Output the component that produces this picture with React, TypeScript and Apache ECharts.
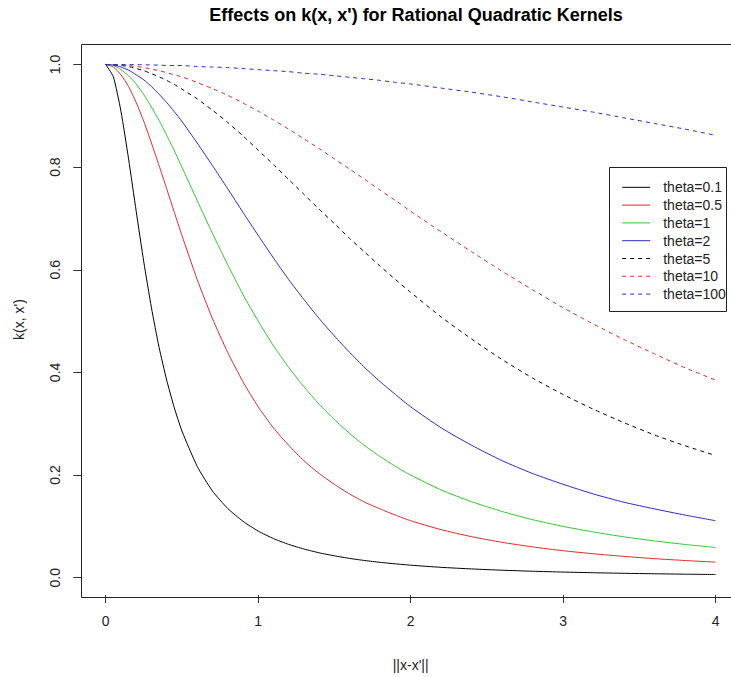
import React, { useEffect, useRef } from "react";
import * as echarts from "echarts";

const xs = [0, 0.05, 0.1, 0.15, 0.2, 0.25, 0.3, 0.35, 0.4, 0.45, 0.5, 0.6, 0.7, 0.8, 0.9, 1.0, 1.1, 1.2, 1.3, 1.4, 1.5, 1.6, 1.7, 1.8, 1.9, 2.0, 2.2, 2.4, 2.6, 2.8, 3.0, 3.2, 3.4, 3.6, 3.8, 4.0];

const theta01 = [1, 0.976, 0.909, 0.816, 0.714, 0.615, 0.526, 0.449, 0.385, 0.331, 0.286, 0.217, 0.169, 0.135, 0.11, 0.0909, 0.0763, 0.0649, 0.0559, 0.0485, 0.0426, 0.0376, 0.0334, 0.0299, 0.027, 0.0244, 0.0202, 0.0171, 0.0146, 0.0126, 0.011, 0.00967, 0.00858, 0.00766, 0.00688, 0.00621];
const theta05 = [1, 0.995, 0.98, 0.957, 0.926, 0.889, 0.847, 0.803, 0.758, 0.712, 0.667, 0.581, 0.505, 0.439, 0.382, 0.333, 0.292, 0.258, 0.228, 0.203, 0.182, 0.163, 0.147, 0.134, 0.122, 0.111, 0.0936, 0.0799, 0.0689, 0.06, 0.0526, 0.0466, 0.0415, 0.0371, 0.0335, 0.0303];
const theta1 = [1, 0.998, 0.99, 0.978, 0.962, 0.941, 0.917, 0.891, 0.862, 0.832, 0.8, 0.735, 0.671, 0.61, 0.552, 0.5, 0.452, 0.41, 0.372, 0.338, 0.308, 0.281, 0.257, 0.236, 0.217, 0.2, 0.171, 0.148, 0.129, 0.113, 0.1, 0.089, 0.0796, 0.0716, 0.0648, 0.0588];
const theta2 = [1, 0.999, 0.995, 0.989, 0.98, 0.97, 0.957, 0.942, 0.926, 0.908, 0.889, 0.847, 0.803, 0.758, 0.712, 0.667, 0.623, 0.581, 0.542, 0.505, 0.471, 0.439, 0.409, 0.382, 0.357, 0.333, 0.292, 0.258, 0.228, 0.203, 0.182, 0.163, 0.147, 0.134, 0.122, 0.111];
const theta5 = [1, 0.9995, 0.998, 0.996, 0.992, 0.988, 0.982, 0.976, 0.969, 0.961, 0.952, 0.933, 0.911, 0.887, 0.861, 0.833, 0.805, 0.776, 0.747, 0.718, 0.69, 0.661, 0.634, 0.607, 0.581, 0.556, 0.508, 0.465, 0.425, 0.389, 0.357, 0.328, 0.302, 0.278, 0.257, 0.238];
const theta10 = [1, 0.9998, 0.999, 0.998, 0.996, 0.994, 0.991, 0.988, 0.984, 0.98, 0.976, 0.965, 0.953, 0.94, 0.925, 0.909, 0.892, 0.874, 0.855, 0.836, 0.816, 0.796, 0.776, 0.755, 0.735, 0.714, 0.674, 0.635, 0.597, 0.561, 0.526, 0.494, 0.464, 0.436, 0.409, 0.385];
const theta100 = [1, 1, 0.9999, 0.9998, 0.9996, 0.9994, 0.9991, 0.9988, 0.998, 0.998, 0.998, 0.996, 0.995, 0.994, 0.992, 0.99, 0.988, 0.986, 0.983, 0.981, 0.978, 0.975, 0.972, 0.969, 0.965, 0.962, 0.954, 0.946, 0.937, 0.927, 0.917, 0.907, 0.896, 0.885, 0.874, 0.862];

const seriesNames = ["theta=0.1", "theta=0.5", "theta=1", "theta=2", "theta=5", "theta=10", "theta=100"];
const seriesValues = [theta01, theta05, theta1, theta2, theta5, theta10, theta100];
const seriesColors = ["#000000", "#e02828", "#2ec82e", "#2a2ac8", "#000000", "#e02828", "#2a2ac8"];
const seriesDashed = [false, false, false, false, true, true, true];

const xTicks = [0, 1, 2, 3, 4];
const yTicks = [0, 0.2, 0.4, 0.6, 0.8, 1.0];
// plotted ranges (R default 4% extension)
const xRange = [-0.16, 4.16];
const yRange = [-0.0337, 1.0399];

const FONT = "'Liberation Sans', Arial, sans-serif";

export default function App() {
  const ref = useRef<HTMLDivElement>(null);
  useEffect(() => {
    if (!ref.current) return;
    const chart = echarts.init(ref.current, null, { renderer: "svg" });
    const option: any = {
      animation: false,
      backgroundColor: "#ffffff",
      title: {
        text: "Effects on k(x, x') for Rational Quadratic Kernels",
        left: 411,
        top: 1,
        textAlign: "center",
        textStyle: { fontFamily: FONT, fontSize: 18, fontWeight: "bold", color: "#000" },
      },
      grid: { left: 81.3, width: 658.7, top: 44, height: 553.5, containLabel: false },
      xAxis: {
        type: "value",
        min: xRange[0],
        max: xRange[1],
        name: "||x-x'||",
        nameLocation: "middle",
        nameGap: 63,
        nameTextStyle: { fontFamily: FONT, fontSize: 14, color: "#222" },
        axisLine: { show: false, onZero: false },
        axisTick: { show: true, length: 8, customValues: xTicks, lineStyle: { color: "#333" } },
        axisLabel: { fontFamily: FONT, fontSize: 14, color: "#222", margin: 19, customValues: xTicks },
        splitLine: { show: false },
      },
      yAxis: {
        type: "value",
        min: yRange[0],
        max: yRange[1],
        name: "k(x, x')",
        nameLocation: "middle",
        nameGap: 55,
        nameTextStyle: { fontFamily: FONT, fontSize: 14, color: "#222" },
        axisLine: { show: false, onZero: false },
        axisTick: { show: true, length: 8, customValues: yTicks, lineStyle: { color: "#333" } },
        axisLabel: {
          fontFamily: FONT,
          fontSize: 14,
          color: "#222",
          rotate: 90,
          margin: 19,
          customValues: yTicks,
          formatter: (v: number) => v.toFixed(1),
        },
        splitLine: { show: false },
      },
      legend: {
        orient: "vertical",
        left: 621.7,
        top: 180.3,
        padding: 0,
        itemWidth: 28,
        itemHeight: 14,
        itemGap: 3.8,
        data: seriesNames,
        itemStyle: { opacity: 0 },
        lineStyle: { width: 1 },
        textStyle: { fontFamily: FONT, fontSize: 14, color: "#222", padding: [0, 0, 0, 8] },
      },
      graphic: [
        {
          type: "rect",
          shape: { x: 81.5, y: 44.5, width: 658.5, height: 553 },
          style: { fill: "none", stroke: "#222", lineWidth: 1 },
          silent: true,
        },
        {
          type: "rect",
          shape: { x: 609.5, y: 167.5, width: 117, height: 144 },
          style: { fill: "#fff", stroke: "#222", lineWidth: 1 },
          silent: true,
          z: -1,
        },
      ],
      series: seriesNames.map((name, i) => ({
        name,
        type: "line",
        data: xs.map((x, j) => [x, seriesValues[i][j]]),
        symbol: "none",
        showSymbol: false,
        smooth: 0.2,
        z: 3,
        color: seriesColors[i],
        lineStyle: {
          color: seriesColors[i],
          width: 1,
          type: seriesDashed[i] ? [4, 4] : "solid",
        },
      })),
    };
    chart.setOption(option);
    return () => chart.dispose();
  }, []);
  return (
    <div
      style={{ position: "absolute", left: 0, top: 0, width: 731, height: 677, overflow: "hidden", background: "#fff" }}
    >
      <div ref={ref} style={{ width: 760, height: 677 }} />
    </div>
  );
}
